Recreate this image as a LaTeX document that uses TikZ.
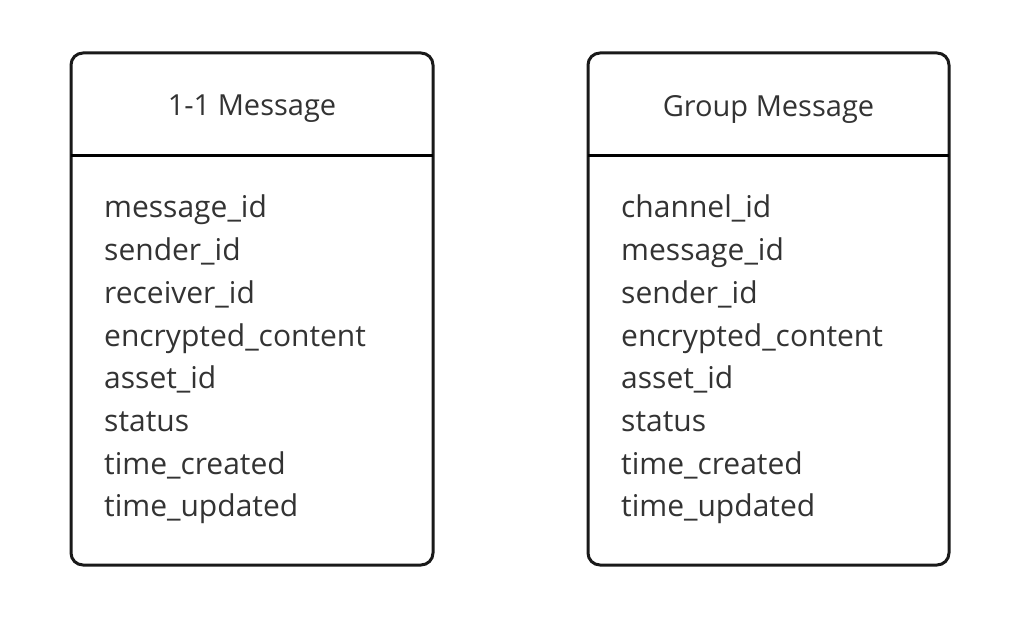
\documentclass[tikz,border=0pt]{standalone}
\usepackage{fontspec}
\setmainfont{Open Sans}
\begin{document}
\begin{tikzpicture}[x=1pt,y=-1pt,
  tbox/.style={line width=3pt,rounded corners=12pt,draw=black!90},
  ttl/.style={font=\fontsize{29}{32}\selectfont,text=black!80,anchor=center},
  fld/.style={font=\fontsize{30}{33}\selectfont,text=black!80,anchor=base west,inner sep=0pt}]
\useasboundingbox (0,0) rectangle (1024,617);
\draw[tbox] (71,53) rectangle (433,565);
\draw[line width=3pt] (71,156) -- (433,156);
\node[ttl] (t1) at (252,109) {1-1 Message};
\draw[tbox] (588,53) rectangle (949,565);
\draw[line width=3pt] (588,156) -- (949,156);
\node[ttl] (t2) at (768.5,109) {Group Message};
\foreach \t [count=\i] in {message\_id,sender\_id,receiver\_id,encrypted\_content,asset\_id,status,time\_created,time\_updated}
  \node[fld] (a\i) at (104,{208+(\i-1)*42.7+10}) {\t};
\foreach \t [count=\i] in {channel\_id,message\_id,sender\_id,encrypted\_content,asset\_id,status,time\_created,time\_updated}
  \node[fld] (b\i) at (621,{208+(\i-1)*42.7+10}) {\t};
\end{tikzpicture}
\end{document}
